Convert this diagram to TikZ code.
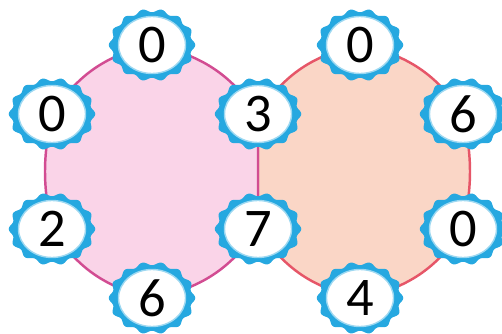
\documentclass[tikz,border=0pt]{standalone}
\usepackage{fontspec}
\setmainfont{Carlito}
\usetikzlibrary{positioning, shapes.geometric}
\definecolor{azulSelo}{RGB}{38,168,224}
\definecolor{rosaFundo}{RGB}{250,212,232}
\definecolor{rosaBorda}{RGB}{210,76,146}
\definecolor{salmaoFundo}{RGB}{250,214,198}
\definecolor{salmaoBorda}{RGB}{230,86,104}
\pgfdeclarelayer{fundo}
\pgfdeclarelayer{engrenagem}
\pgfsetlayers{fundo,engrenagem,main}

\begin{document}
\begin{tikzpicture}[
    selo/.style={ellipse, fill=white, draw=azulSelo!45, line width=0.8pt, minimum width=1.34cm, minimum height=1.14cm, inner sep=0pt, font=\fontsize{31}{31}\selectfont},
    bordaRosa/.style={draw=rosaBorda, line width=1.4pt},
    bordaSalmao/.style={draw=salmaoBorda, line width=1.4pt}
]
    \useasboundingbox (0,0) rectangle (10.04,6.66);

    \node[selo] (n1) at (3.04, 5.76) {0};
    \node[selo] (n2) at (1.04, 4.38) {0};
    \node[selo] (n3) at (1.04, 2.08) {2};
    \node[selo] (n4) at (3.04, 0.70) {6};
    \node[selo] (n5) at (5.16, 4.38) {3};
    \node[selo] (n6) at (5.16, 2.08) {7};
    \node[selo] (n7) at (7.20, 5.76) {0};
    \node[selo] (n8) at (9.26, 4.38) {6};
    \node[selo] (n9) at (9.26, 2.08) {0};
    \node[selo] (n10) at (7.20, 0.70) {4};

    \begin{pgfonlayer}{engrenagem}
        \foreach \i in {1,...,10}
            \fill[azulSelo, shift={(n\i.center)}] plot[domain=0:357.5, samples=144, smooth cycle]
                ({(0.83+0.035*cos(14*\x))*cos(\x)}, {(0.69+0.035*cos(14*\x))*sin(\x)});
    \end{pgfonlayer}

    \begin{pgfonlayer}{fundo}
        \fill[salmaoFundo, bordaSalmao] (n5.center) to[bend left=22] (n7.center) to[bend left=22] (n8.center)
            to[bend left=12] (n9.center) to[bend left=22] (n10.center) to[bend left=22] (n6.center) -- cycle;
        \fill[rosaFundo, bordaRosa] (n2.center) to[bend left=22] (n1.center) to[bend left=22] (n5.center)
            -- (n6.center) to[bend left=22] (n4.center) to[bend left=22] (n3.center) to[bend left=12] (n2.center) -- cycle;
    \end{pgfonlayer}
\end{tikzpicture}
\end{document}
